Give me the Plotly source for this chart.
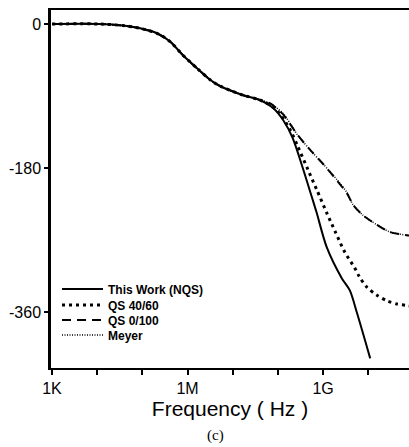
import plotly.graph_objects as go

# Shared low-frequency part (all four models coincide here)
freq_common = [1e3, 1.15e4, 3.7e4, 8.9e4, 2.1e5, 4.1e5, 7.9e5, 1.6e6, 3.2e6, 5.2e6, 1.7e7, 4.0e7]
phase_common = [0, 0, -2, -5.4, -11.6, -22, -39, -55, -70, -77.5, -89, -95]

# High-frequency tails
freq_nqs = [7.8e7, 1.3e8, 2.1e8, 3.5e8, 5.6e8, 7.2e8, 1.2e9, 2.6e9, 3.9e9, 5.6e9, 1.1e10]
phase_nqs = [-105, -120, -142, -179, -216, -236, -279, -318, -333, -361, -418]

freq_qs4060 = [7.8e7, 1.1e8, 1.85e8, 2.75e8, 4.6e8, 7.2e8, 1.2e9, 1.9e9, 3.0e9, 5.0e9, 6.2e9, 9.3e9, 1.55e10, 2.6e10, 4.3e10, 7.6e10, 1e11]
phase_qs4060 = [-104, -112, -132, -153, -182, -207, -236, -261, -285, -305, -315, -329, -339, -346, -350, -352, -353]

freq_qs0100 = [6.6e7, 1.3e8, 2.75e8, 5.1e8, 1e9, 2.05e9, 3.4e9, 4.6e9, 7.6e9, 1.55e10, 3.0e10, 7.1e10, 1e11]
phase_qs0100 = [-99, -113, -139, -157, -175, -196, -212, -226, -239, -251, -260, -264, -265]

freq_meyer = [6.6e7, 1.3e8, 2.75e8, 5.1e8, 1e9, 2.05e9, 3.4e9, 4.6e9, 7.6e9, 1.55e10, 3.0e10, 7.1e10, 1e11]
phase_meyer = [-99, -112, -139, -157, -175, -195, -211, -226, -239, -251, -260, -264, -265]

series_names = ["This Work (NQS)", "QS 40/60", "QS 0/100", "Meyer"]
x_tickvals = [1e3, 1e4, 1e5, 1e6, 1e7, 1e8, 1e9, 1e10]
x_ticktext = ["1K", "", "", "1M", "", "", "1G", ""]
y_tickvals = [0, -180, -360]
y_ticktext = ["0", "-180", "-360"]

W, H = 409, 447
L, T, B = 51, 10, 79
PW, PH = W - L, H - T - B
FONT = "Liberation Sans, Arial, sans-serif"

fig = go.Figure()

styles = [
    dict(color="black", width=2, dash="solid"),
    dict(color="black", width=3, dash="3px,4px"),
    dict(color="black", width=2, dash="9px,6px"),
    dict(color="black", width=1.5, dash="1px,1.5px"),
]
tails = [(freq_nqs, phase_nqs), (freq_qs4060, phase_qs4060),
         (freq_qs0100, phase_qs0100), (freq_meyer, phase_meyer)]
legend_ids = ["legend", "legend2", "legend3", "legend4"]
legend_centers = [289, 305, 320, 335]

for name, st, (fx, py), lid in zip(series_names, styles, tails, legend_ids):
    fig.add_trace(go.Scatter(
        x=freq_common + fx, y=phase_common + py, name=name, mode="lines",
        line=dict(shape="spline", smoothing=0.8, **st), legend=lid,
        cliponaxis=True))

leg_common = dict(x=(57 - L) / PW, xanchor="left",
                  yanchor="middle", bgcolor="rgba(0,0,0,0)", borderwidth=0,
                  itemwidth=41,
                  font=dict(family=FONT, size=12, color="black", weight=700))
legends = {}
for lid, cy in zip(legend_ids, legend_centers):
    legends[lid] = dict(y=(H - B - cy) / PH, **leg_common)

fig.update_layout(
    width=W, height=H,
    margin=dict(l=L, r=0, t=T, b=B, autoexpand=False),
    paper_bgcolor="white", plot_bgcolor="white",
    showlegend=True,
    **legends,
    xaxis=dict(type="log", range=[2.978, 10.90],
               tickvals=x_tickvals, ticktext=x_ticktext,
               ticks="outside", ticklen=5, tickwidth=1.5, tickcolor="black",
               showline=True, linewidth=2, linecolor="black", mirror=True,
               showgrid=False, zeroline=False,
               tickfont=dict(family=FONT, size=16, color="black"),
               title=dict(text="Frequency ( Hz )", standoff=5,
                          font=dict(family=FONT, size=21, color="black"))),
    yaxis=dict(range=[-430, 17.5],
               tickvals=y_tickvals, ticktext=y_ticktext,
               ticks="outside", ticklen=4, tickwidth=1.5, tickcolor="black",
               showline=True, linewidth=2.5, linecolor="black",
               showgrid=False, zeroline=False,
               tickfont=dict(family=FONT, size=16, color="black")),
    annotations=[dict(text="(c)", xref="paper", yref="paper",
                      x=(215 - L) / PW, y=(H - B - 436) / PH, showarrow=False,
                      xanchor="center", yanchor="middle",
                      font=dict(family="Liberation Serif, Times New Roman, serif",
                                size=15, color="black"))],
)

fig.write_html("out.html")
